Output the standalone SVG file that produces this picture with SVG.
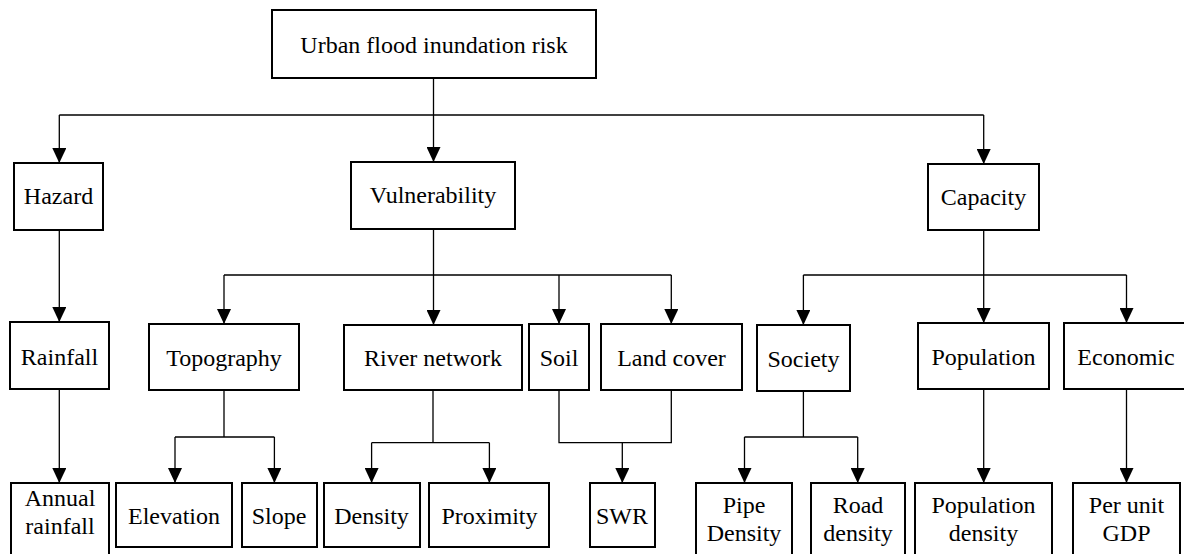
<svg xmlns="http://www.w3.org/2000/svg" width="1184" height="554" viewBox="0 0 1184 554">
<defs>
<marker id="arr" markerUnits="userSpaceOnUse" markerWidth="15" markerHeight="14" refX="15" refY="7" orient="auto">
<path d="M0,0 L15,7 L0,14 Z" fill="#000"/>
</marker>
<style>
.box{fill:#fff;stroke:#000;stroke-width:2}
.t{font-family:"Liberation Serif","Times New Roman",serif;font-size:24px;fill:#000;text-anchor:middle}
.c{fill:none;stroke:#000;stroke-width:1.3}
.a{marker-end:url(#arr)}
</style>
</defs>
<rect width="1184" height="554" fill="#fff"/>
<g id="connectors">
<line class="c a" x1="433.5" y1="78" x2="433.5" y2="162"/>
<path class="c" d="M59.3,115 H983.7"/>
<line class="c a" x1="59.3" y1="115" x2="59.3" y2="163"/>
<line class="c a" x1="983.7" y1="115" x2="983.7" y2="164"/>
<line class="c a" x1="59.3" y1="230" x2="59.3" y2="322"/>
<line class="c a" x1="59.3" y1="389" x2="59.3" y2="483"/>
<path class="c" d="M433.5,229 V275 M224,275 H671.3"/>
<line class="c a" x1="224" y1="275" x2="224" y2="324"/>
<line class="c a" x1="433.5" y1="275" x2="433.5" y2="325"/>
<line class="c a" x1="559" y1="275" x2="559" y2="324"/>
<line class="c a" x1="671.3" y1="275" x2="671.3" y2="324"/>
<path class="c" d="M983.7,230 V275 M803.4,275 H1126.5"/>
<line class="c a" x1="803.4" y1="275" x2="803.4" y2="325"/>
<line class="c a" x1="983.7" y1="275" x2="983.7" y2="323"/>
<line class="c a" x1="1126.5" y1="275" x2="1126.5" y2="323"/>
<path class="c" d="M224,390 V437 M175,437 H274.4"/>
<line class="c a" x1="175" y1="437" x2="175" y2="483"/>
<line class="c a" x1="274.4" y1="437" x2="274.4" y2="483"/>
<path class="c" d="M433,390 V442.7 M371.6,442.7 H489.4"/>
<line class="c a" x1="371.6" y1="442.7" x2="371.6" y2="483"/>
<line class="c a" x1="489.4" y1="442.7" x2="489.4" y2="483"/>
<path class="c" d="M559,390 V442.7 H671.3 V390"/>
<line class="c a" x1="622.3" y1="442.7" x2="622.3" y2="483"/>
<path class="c" d="M803.4,391 V437 M744.5,437 H857.7"/>
<line class="c a" x1="744.5" y1="437" x2="744.5" y2="483"/>
<line class="c a" x1="857.7" y1="437" x2="857.7" y2="483"/>
<line class="c a" x1="983.7" y1="389" x2="983.7" y2="483"/>
<line class="c a" x1="1126.5" y1="389" x2="1126.5" y2="483"/>
</g>
<g id="root"><rect class="box" x="272" y="10" width="324" height="68"/><text class="t" x="434" y="53">Urban flood inundation risk</text></g>
<g id="hazard"><rect class="box" x="14" y="163" width="89" height="67"/><text class="t" x="58.5" y="204">Hazard</text></g>
<g id="vulnerability"><rect class="box" x="351" y="162" width="164" height="67"/><text class="t" x="433" y="203">Vulnerability</text></g>
<g id="capacity"><rect class="box" x="928" y="164" width="111" height="66"/><text class="t" x="983.5" y="205">Capacity</text></g>
<g id="rainfall"><rect class="box" x="10" y="322" width="99" height="67"/><text class="t" x="59.5" y="365">Rainfall</text></g>
<g id="topography"><rect class="box" x="149" y="324" width="150" height="66"/><text class="t" x="224" y="366">Topography</text></g>
<g id="river-network"><rect class="box" x="344" y="325" width="178" height="65"/><text class="t" x="433" y="366">River network</text></g>
<g id="soil"><rect class="box" x="529" y="324" width="60" height="66"/><text class="t" x="559" y="366">Soil</text></g>
<g id="land-cover"><rect class="box" x="601" y="324" width="141" height="66"/><text class="t" x="671.5" y="366">Land cover</text></g>
<g id="society"><rect class="box" x="757" y="325" width="93" height="66"/><text class="t" x="803.5" y="367">Society</text></g>
<g id="population"><rect class="box" x="918" y="323" width="131" height="66"/><text class="t" x="983.5" y="365">Population</text></g>
<g id="economic"><rect class="box" x="1064" y="323" width="126" height="66"/><text class="t" x="1126" y="365">Economic</text></g>
<g id="annual-rainfall"><rect class="box" x="11" y="483" width="98" height="80"/><text class="t" x="60" y="506">Annual</text><text class="t" x="60" y="534">rainfall</text></g>
<g id="elevation"><rect class="box" x="116" y="483" width="116" height="64"/><text class="t" x="174" y="524">Elevation</text></g>
<g id="slope"><rect class="box" x="242" y="483" width="75" height="64"/><text class="t" x="279" y="524">Slope</text></g>
<g id="density"><rect class="box" x="324" y="483" width="96" height="64"/><text class="t" x="371.5" y="524">Density</text></g>
<g id="proximity"><rect class="box" x="429" y="483" width="120" height="64"/><text class="t" x="489.5" y="524">Proximity</text></g>
<g id="swr"><rect class="box" x="590" y="483" width="65" height="64"/><text class="t" x="622" y="524">SWR</text></g>
<g id="pipe-density"><rect class="box" x="696" y="483" width="96" height="80"/><text class="t" x="744" y="513">Pipe</text><text class="t" x="744" y="541">Density</text></g>
<g id="road-density"><rect class="box" x="811" y="483" width="94" height="80"/><text class="t" x="858" y="513">Road</text><text class="t" x="858" y="541">density</text></g>
<g id="population-density"><rect class="box" x="915" y="483" width="137" height="80"/><text class="t" x="983.5" y="513">Population</text><text class="t" x="983.5" y="541">density</text></g>
<g id="per-unit-gdp"><rect class="box" x="1073" y="483" width="107" height="80"/><text class="t" x="1126.5" y="513">Per unit</text><text class="t" x="1126.5" y="541">GDP</text></g>
</svg>
